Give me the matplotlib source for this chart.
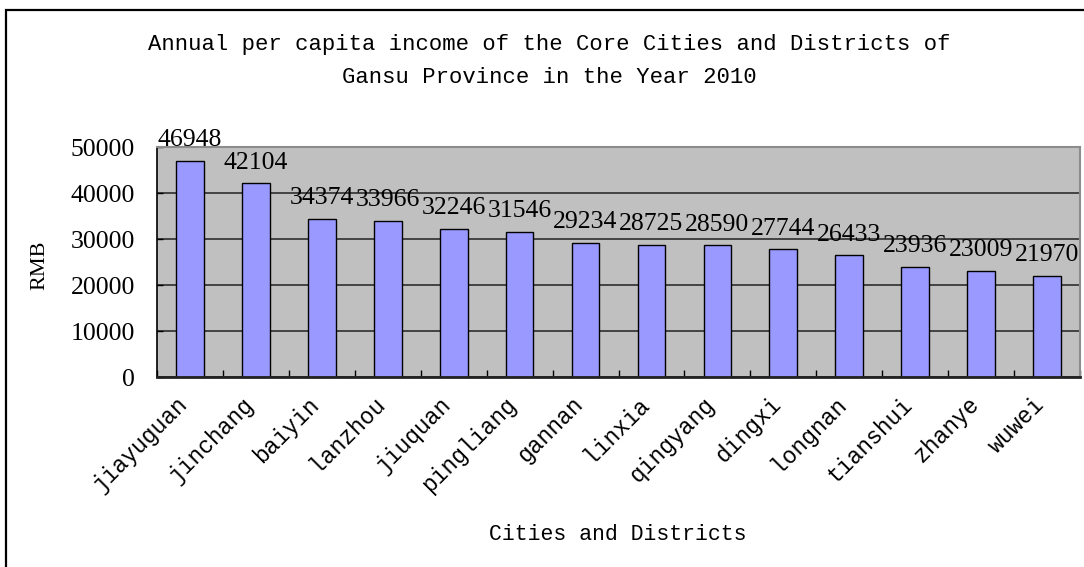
import matplotlib
matplotlib.use('Agg')
import matplotlib.pyplot as plt
import matplotlib.transforms as mtransforms
from matplotlib.patches import Rectangle
import numpy as np

cities = ['jiayuguan', 'jinchang', 'baiyin', 'lanzhou', 'jiuquan', 'pingliang', 'gannan',
          'linxia', 'qingyang', 'dingxi', 'longnan', 'tianshui', 'zhanye', 'wuwei']
income = [46948, 42104, 34374, 33966, 32246, 31546, 29234,
          28725, 28590, 27744, 26433, 23936, 23009, 21970]
yticks = [0, 10000, 20000, 30000, 40000, 50000]

mono = 'Liberation Mono'
serif = 'Liberation Serif'

fig = plt.figure(figsize=(10.84, 5.67), dpi=100)
fig.patch.set_facecolor('white')
# outer chart frame (right and bottom run off the picture)
fig.patches.append(Rectangle((6 / 1084, -0.2), 1.2, 1.2 - 10 / 567,
                             transform=fig.transFigure, fill=False,
                             edgecolor='black', linewidth=1.6))

ax = fig.add_axes([157 / 1084, 1 - 377 / 567, (1080 - 157) / 1084, (377 - 147) / 567])
ax.set_facecolor('#C0C0C0')
ax.set_axisbelow(True)

x = np.arange(len(cities))
ax.bar(x, income, width=0.42, color='#9999FF', edgecolor='black', linewidth=1.0)
for xi, v in zip(x, income):
    ax.annotate(str(v), (xi, v), xytext=(0, 7), textcoords='offset points',
                ha='center', va='bottom', fontsize=18.5, family=serif)

ax.set_xlim(-0.5, len(cities) - 0.5)
ax.set_ylim(0, 50000)
ax.set_yticks(yticks)
ax.set_yticklabels([str(t) for t in yticks], family=serif, fontsize=18.5)
ax.yaxis.grid(True, color='#222222', linewidth=1.1)
ax.tick_params(axis='y', direction='in', length=4, width=1, pad=16)

ax.set_xticks(x)
ax.set_xticklabels(cities, rotation=45, ha='right', va='center',
                   rotation_mode='anchor', family=mono, fontsize=16.5)
ax.tick_params(axis='x', which='major', length=0, pad=17)
ax.set_xticks(np.arange(len(cities) + 1) - 0.5, minor=True)
ax.tick_params(axis='x', which='minor', direction='in', length=5, width=1)
offset = mtransforms.ScaledTranslation(-6 / 100, 0, fig.dpi_scale_trans)
for lab in ax.get_xticklabels():
    lab.set_transform(lab.get_transform() + offset)

for side in ['top', 'right']:
    ax.spines[side].set_color('#8C8C8C')
    ax.spines[side].set_linewidth(1.5)
ax.spines['left'].set_color('black')
ax.spines['left'].set_linewidth(1.2)
ax.spines['bottom'].set_color('#222222')
ax.spines['bottom'].set_linewidth(2)

fig.text(549 / 1084, 1 - 61 / 567,
         'Annual per capita income of the Core Cities and Districts of\nGansu Province in the Year 2010',
         ha='center', va='center', family=mono, fontsize=16, linespacing=1.75)
fig.text(618 / 1084, 1 - 535 / 567, 'Cities and Districts', ha='center', va='center',
         family=mono, fontsize=15.5)
fig.text(40 / 1084, 1 - 265 / 567, 'RMB', rotation=90, ha='center', va='center',
         family=serif, fontsize=16)

fig.savefig('out.png', dpi=100)
